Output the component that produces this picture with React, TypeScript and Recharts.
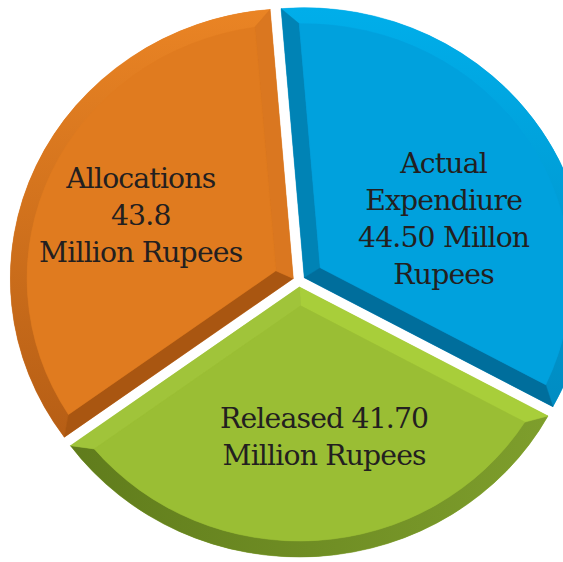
import React from 'react';
import { PieChart, Pie, Cell } from 'recharts';

// ---- data ----
const categories = ['Actual Expenditure', 'Released', 'Allocations'];
const values = [44.5, 41.7, 43.8];
const labelLines = [
  ['Actual', 'Expendiure', '44.50 Millon', 'Rupees'],
  ['Released 41.70', 'Million Rupees'],
  ['Allocations', '43.8', 'Million Rupees'],
];

const data = categories.map((name, i) => ({ name, value: values[i] }));

// ---- styles ----
const STYLES = [
  { face: '#00A1DD', startBand: '#0083B5', endBand: '#006E9C', arcFrom: '#00AEEA', arcTo: '#008CC2', dir: 'v' },
  { face: '#9ABE34', startBand: '#A8CE3A', endBand: '#A0C43A', arcFrom: '#607C1C', arcTo: '#7E9E2C', dir: 'h' },
  { face: '#E07B1F', startBand: '#A95611', endBand: '#DA7720', arcFrom: '#EA8424', arcTo: '#B65E15', dir: 'v' },
];
const LABEL_OFFSETS = [
  { dx: 138, dy: -107.6 },
  { dx: 24, dy: 147.4 },
  { dx: -151, dy: -92.5 },
];
const FONT = 'DejaVu Serif';
const BEVEL = 16;
const EXPLODE = 6;
const RAD = Math.PI / 180;
const CX = 299;
const CY = 281;
const R = 270;
const START = 94.7;

const u = (a: number) => [Math.cos(a * RAD), -Math.sin(a * RAD)];

function BevelSector(props: any) {
  const { cx, cy, outerRadius, startAngle, endAngle } = props;
  const name = props.name ?? props.payload?.name;
  const idx = Math.max(0, categories.indexOf(name));
  const st = STYLES[idx];
  const Rr = outerRadius;
  const b = BEVEL;
  const a1 = startAngle;
  const a2 = endAngle;
  const sgn = a2 < a1 ? -1 : 1;
  const span = Math.abs(a1 - a2);
  const mid = (a1 + a2) / 2;
  const [mx, my] = u(mid);
  const ox = EXPLODE * mx;
  const oy = EXPLODE * my;
  const u1 = u(a1);
  const u2 = u(a2);
  const n1 = u(a1 + sgn * 90);
  const n2 = u(a2 - sgn * 90);
  const t = Math.sqrt((Rr - b) * (Rr - b) - b * b);
  const Q1 = [cx + b * n1[0] + t * u1[0], cy + b * n1[1] + t * u1[1]];
  const Q2 = [cx + b * n2[0] + t * u2[0], cy + b * n2[1] + t * u2[1]];
  const pd = b / Math.sin((span / 2) * RAD);
  const P0 = [cx + pd * mx, cy + pd * my];
  const A1 = [cx + Rr * u1[0], cy + Rr * u1[1]];
  const A2 = [cx + Rr * u2[0], cy + Rr * u2[1]];
  const sweep = sgn < 0 ? 1 : 0;
  const large = span > 180 ? 1 : 0;
  const f = (p: number[]) => `${p[0].toFixed(2)},${p[1].toFixed(2)}`;
  const full = `M${cx},${cy} L${f(A1)} A${Rr},${Rr} 0 ${large} ${sweep} ${f(A2)} Z`;
  const arcBand = `M${f(A1)} A${Rr},${Rr} 0 ${large} ${sweep} ${f(A2)} L${f(Q2)} A${Rr - b},${Rr - b} 0 ${large} ${1 - sweep} ${f(Q1)} Z`;
  const band1 = `M${cx},${cy} L${f(A1)} L${f(Q1)} L${f(P0)} Z`;
  const band2 = `M${cx},${cy} L${f(P0)} L${f(Q2)} L${f(A2)} Z`;
  const face = `M${f(P0)} L${f(Q1)} A${Rr - b},${Rr - b} 0 ${large} ${sweep} ${f(Q2)} Z`;
  const gid = `arcgrad-${idx}`;
  return (
    <g transform={`translate(${ox.toFixed(2)},${oy.toFixed(2)})`}>
      <defs>
        <linearGradient id={gid} x1="0" y1="0" x2={st.dir === 'h' ? '1' : '0'} y2={st.dir === 'h' ? '0' : '1'}>
          <stop offset="0%" stopColor={st.arcFrom} />
          <stop offset="100%" stopColor={st.arcTo} />
        </linearGradient>
      </defs>
      <path d={full} fill={st.face} stroke="none" />
      <path d={arcBand} fill={`url(#${gid})`} stroke={`url(#${gid})`} strokeWidth={0.5} />
      <path d={band1} fill={st.startBand} stroke={st.startBand} strokeWidth={0.5} />
      <path d={band2} fill={st.endBand} stroke={st.endBand} strokeWidth={0.5} />
      <path d={face} fill={st.face} stroke={st.face} strokeWidth={0.5} />
    </g>
  );
}

function renderLabel(props: any) {
  const { cx, cy, index } = props;
  const off = LABEL_OFFSETS[index];
  const lines = labelLines[index];
  const x = cx + off.dx;
  return (
    <text
      x={x}
      y={cy + off.dy}
      textAnchor="middle"
      fontFamily={FONT}
      fontSize={27}
      letterSpacing={-0.8}
      fill="#231F20"
    >
      {lines.map((ln, i) => (
        <tspan key={i} x={x} y={cy + off.dy + i * 36.8}>
          {ln}
        </tspan>
      ))}
    </text>
  );
}

export default function App() {
  return (
    <div style={{ position: 'absolute', left: 0, top: 0, width: 563, height: 562, overflow: 'hidden', background: '#fff' }}>
      <div style={{ width: 563, height: 562, transform: 'scaleX(1.048)', transformOrigin: `${CX}px ${CY}px` }}>
        <PieChart width={563} height={562} margin={{ top: 0, right: 0, bottom: 0, left: 0 }}>
          <Pie
            data={data}
            dataKey="value"
            nameKey="name"
            cx={CX}
            cy={CY}
            innerRadius={0}
            outerRadius={R}
            startAngle={START}
            endAngle={START - 360}
            stroke="none"
            isAnimationActive={false}
            labelLine={false}
            label={renderLabel}
            shape={BevelSector}
            activeShape={BevelSector}
            inactiveShape={BevelSector}
          >
            {data.map((d, i) => (
              <Cell key={d.name} fill={STYLES[i].face} />
            ))}
          </Pie>
        </PieChart>
      </div>
    </div>
  );
}
